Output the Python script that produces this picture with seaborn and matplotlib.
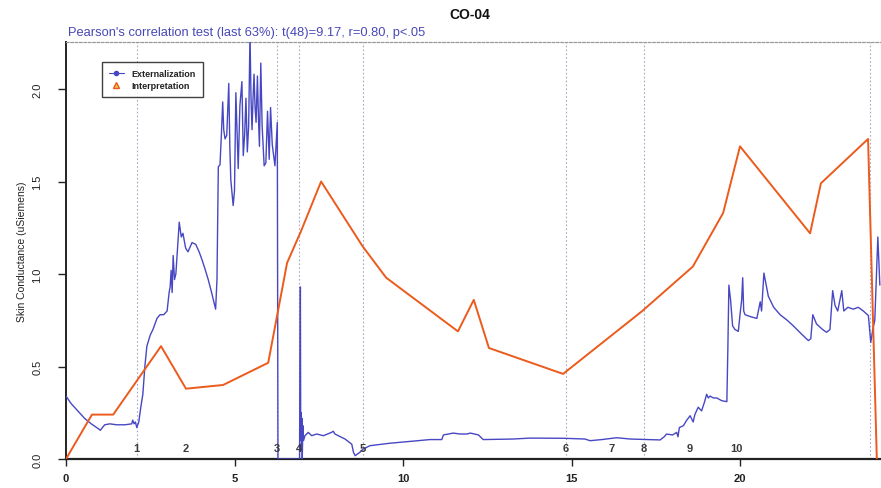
import matplotlib
matplotlib.use("Agg")
import matplotlib.pyplot as plt
from matplotlib.lines import Line2D
import pandas as pd
import seaborn as sns

# Externalization: skin conductance trace (minutes, uSiemens)
ext_x = [0.00, 0.15, 0.35, 0.55, 0.75, 0.95, 1.02, 1.08, 1.15, 1.30, 1.50, 1.75, 1.95, 1.98,
         2.02, 2.06, 2.10, 2.16, 2.22, 2.28, 2.34, 2.40, 2.50, 2.58, 2.70, 2.79, 2.90, 3.00,
         3.06, 3.09, 3.12, 3.15, 3.18, 3.22, 3.26, 3.36, 3.42, 3.47, 3.55, 3.62, 3.74, 3.85,
         3.95, 4.03, 4.12, 4.22, 4.32, 4.40, 4.44, 4.48, 4.52, 4.57, 4.61, 4.65, 4.68, 4.72,
         4.77, 4.83, 4.86, 4.89, 4.96, 5.00, 5.04, 5.08, 5.11, 5.16, 5.22, 5.26, 5.30, 5.34,
         5.38, 5.42, 5.46, 5.49, 5.52, 5.55, 5.58, 5.61, 5.64, 5.68, 5.71, 5.74, 5.78, 5.82,
         5.88, 5.93, 5.98, 6.03, 6.07, 6.12, 6.20, 6.27, 6.29, 6.93, 6.955, 6.965, 6.98, 6.99,
         7.00, 7.01, 7.03, 7.05, 7.09, 7.19, 7.29, 7.44, 7.64, 7.88, 7.93, 7.98, 8.08, 8.28,
         8.48, 8.53, 8.58, 8.72, 8.82, 9.02, 9.60, 10.20, 10.80, 11.15, 11.20, 11.49, 11.70,
         11.89, 12.00, 12.24, 12.38, 13.27, 13.77, 14.76, 15.40, 15.55, 15.90, 16.34, 16.74,
         17.63, 17.75, 17.82, 18.00, 18.12, 18.16, 18.20, 18.32, 18.42, 18.52, 18.61, 18.66,
         18.76, 18.86, 18.95, 19.01, 19.06, 19.11, 19.21, 19.31, 19.46, 19.61, 19.64, 19.67,
         19.72, 19.78, 19.85, 19.95, 20.00, 20.05, 20.08, 20.11, 20.15, 20.30, 20.50, 20.60,
         20.64, 20.71, 20.84, 21.00, 21.19, 21.40, 21.58, 21.80, 22.03, 22.10, 22.16, 22.27,
         22.45, 22.57, 22.67, 22.75, 22.82, 22.90, 23.02, 23.08, 23.20, 23.36, 23.51, 23.66,
         23.81, 23.88, 23.94, 24.00, 24.09, 24.15]
ext_y = [0.34, 0.30, 0.26, 0.22, 0.19, 0.165, 0.155, 0.17, 0.185, 0.19, 0.185, 0.185, 0.19, 0.21,
         0.19, 0.20, 0.17, 0.20, 0.28, 0.35, 0.50, 0.61, 0.67, 0.70, 0.76, 0.78, 0.78, 0.80,
         0.90, 0.93, 1.02, 0.90, 1.10, 0.97, 1.00, 1.28, 1.20, 1.22, 1.14, 1.12, 1.17, 1.16,
         1.12, 1.08, 1.03, 0.97, 0.90, 0.84, 0.81, 0.97, 1.58, 1.59, 1.75, 1.93, 1.78, 1.73,
         1.75, 2.03, 1.70, 1.51, 1.37, 1.45, 1.98, 1.75, 1.57, 1.91, 2.04, 1.64, 1.75, 1.95,
         1.66, 1.80, 2.30, 1.95, 1.78, 1.95, 2.08, 1.90, 1.82, 2.07, 1.85, 1.69, 2.14, 1.80,
         1.585, 1.60, 1.88, 1.62, 1.90, 1.70, 1.585, 1.82, 0.00, 0.00, 0.93, 0.10, 0.25, 0.05,
         0.22, 0.00, 0.18, 0.10, 0.126, 0.144, 0.126, 0.135, 0.126, 0.144, 0.15, 0.135, 0.126, 0.108,
         0.08, 0.036, 0.018, 0.036, 0.054, 0.072, 0.085, 0.095, 0.105, 0.105, 0.13, 0.14, 0.135,
         0.135, 0.14, 0.13, 0.105, 0.108, 0.113, 0.112, 0.108, 0.099, 0.105, 0.115, 0.108,
         0.103, 0.12, 0.135, 0.13, 0.144, 0.12, 0.17, 0.18, 0.21, 0.234, 0.20, 0.24,
         0.28, 0.26, 0.31, 0.35, 0.33, 0.34, 0.33, 0.33, 0.315, 0.31, 0.60, 0.94,
         0.86, 0.72, 0.70, 0.69, 0.78, 0.86, 0.98, 0.80, 0.78, 0.77, 0.76, 0.85,
         0.80, 1.005, 0.88, 0.82, 0.78, 0.75, 0.72, 0.68, 0.64, 0.65, 0.78, 0.73,
         0.70, 0.685, 0.70, 0.91, 0.83, 0.80, 0.91, 0.80, 0.82, 0.81, 0.82, 0.80,
         0.775, 0.63, 0.70, 0.75, 1.20, 0.94]

# Interpretation: rated values joined as a polyline
int_x = [0.00, 0.77, 1.40, 2.82, 3.56, 4.66, 6.00, 6.56, 6.97, 7.57, 8.80, 9.50, 11.63,
         12.10, 12.55, 14.75, 17.10, 18.60, 19.50, 20.00, 22.08, 22.40, 23.80, 24.06]
int_y = [0.00, 0.24, 0.24, 0.61, 0.38, 0.40, 0.52, 1.06, 1.23, 1.50, 1.15, 0.98, 0.69,
         0.86, 0.60, 0.46, 0.80, 1.04, 1.33, 1.69, 1.22, 1.49, 1.73, 0.00]

# Numbered events along the session
event_labels = ["1", "2", "3", "4", "5", "6", "7", "8", "9", "10"]
event_x = [2.10, 3.56, 6.26, 6.91, 8.81, 14.84, 16.20, 17.15, 18.50, 19.90]
event_line_x = [2.10, 6.26, 6.91, 8.81, 14.84, 17.15, 23.85]

x_ticks = [0, 5, 10, 15, 20]
y_ticks = [0.0, 0.5, 1.0, 1.5, 2.0]

title = "CO-04"
subtitle = "Pearson's correlation test (last 63%): t(48)=9.17, r=0.80, p<.05"
y_label = "Skin Conductance (uSiemens)"
series_names = ["Externalization", "Interpretation"]

BLUE = "#4747c4"
ORANGE = "#ec5a1c"

sns.set_theme(style="white")
plt.rcParams["font.family"] = ["Liberation Sans", "DejaVu Sans"]

W, H = 881, 489
fig = plt.figure(figsize=(W / 100, H / 100), dpi=100)
ax = fig.add_axes([66 / W, (H - 460) / H, (W - 66) / W, (460 - 43) / H])

ext_df = pd.DataFrame({"t": ext_x, "sc": ext_y})
int_df = pd.DataFrame({"t": int_x, "sc": int_y})

for xv in event_line_x:
    ax.axvline(xv, color="#a8a8c8", lw=0.8, ls=(0, (1.5, 2)), zorder=1)

sns.lineplot(data=ext_df, x="t", y="sc", ax=ax, color=BLUE, lw=1.0,
             sort=False, estimator=None, legend=False, zorder=3)
sns.lineplot(data=int_df, x="t", y="sc", ax=ax, color=ORANGE, lw=1.4,
             sort=False, estimator=None, legend=False, zorder=4)

for lab, xv in zip(event_labels, event_x):
    ax.text(xv, 0.06, lab, ha="center", va="center", fontsize=8,
            fontweight="bold", color="#3a3a3a", zorder=5)

ax.set_xlim(0, (W - 66) / 33.7)
ax.set_ylim(0, (460 - 43) / 185)
ax.set_xticks(x_ticks)
ax.set_xticklabels([str(v) for v in x_ticks], fontsize=8, fontweight="bold", color="#222222")
ax.set_yticks(y_ticks)
ax.set_yticklabels([f"{v:.1f}" for v in y_ticks], fontsize=8, rotation=90, va="center", color="#222222")
ax.tick_params(axis="x", direction="out", length=5, width=1, pad=5, color="#222222", bottom=True)
ax.tick_params(axis="y", direction="out", length=6, width=1, pad=11, color="#222222", left=True)
ax.set_xlabel("")
ax.set_ylabel(y_label, fontsize=7.5, color="#222222")
ax.yaxis.set_label_coords(-(66 - 27) / (W - 66), 0.5)

ax.spines["left"].set_color("#222222")
ax.spines["left"].set_linewidth(1.4)
ax.spines["bottom"].set_color("#222222")
ax.spines["bottom"].set_linewidth(1.6)
ax.spines["top"].set_color("#9a9a9a")
ax.spines["top"].set_linestyle((0, (2, 1.5)))
ax.spines["top"].set_linewidth(0.9)
ax.spines["right"].set_visible(False)

handles = [
    Line2D([0], [0], color=BLUE, lw=0.8, marker="o", markersize=3,
           markerfacecolor=BLUE, markeredgecolor=BLUE),
    Line2D([0], [0], color=ORANGE, lw=0, marker="^", markersize=4,
           markerfacecolor="#f6c050", markeredgecolor=ORANGE),
]
leg = ax.legend(handles, series_names, loc="upper left",
                bbox_to_anchor=((102 - 66) / (W - 66), (460 - 63) / (460 - 43)),
                borderaxespad=0, fontsize=6.5, frameon=True, fancybox=False,
                handlelength=1.6, handletextpad=0.9, borderpad=0.8,
                labelspacing=0.3, edgecolor="#111111")
leg.get_frame().set_linewidth(1.0)
for t in leg.get_texts():
    t.set_fontweight("bold")
    t.set_color("#222222")

fig.text(470 / W, 1 - 15 / H, title, ha="center", va="center",
         fontsize=10, fontweight="bold", color="#111111")
fig.text(68 / W, 1 - 33 / H, subtitle, ha="left", va="center",
         fontsize=9.3, color="#4848b8")

fig.savefig("out.png", dpi=100)
